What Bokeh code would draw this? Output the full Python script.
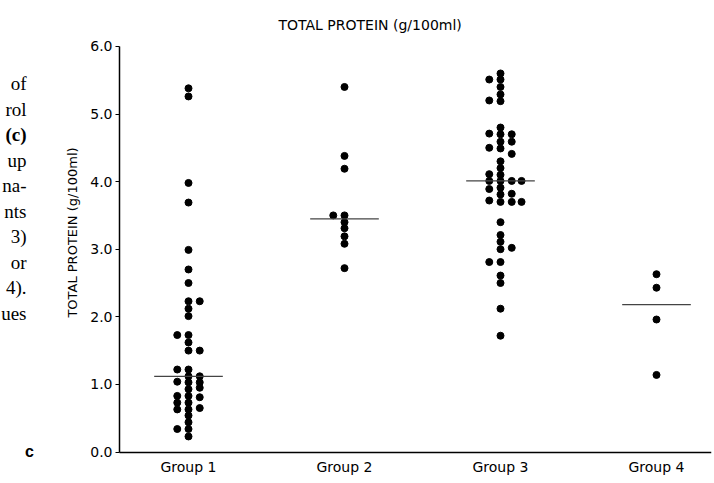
import math
from bokeh.plotting import figure
from bokeh.models import FixedTicker, Range1d, NumeralTickFormatter
from bokeh.core.properties import value
from bokeh.embed import file_html
from bokeh.resources import INLINE

# ---------------- data ----------------
groups = ["Group 1", "Group 2", "Group 3", "Group 4"]
medians = [1.12, 3.45, 4.01, 2.18]

g1_center = [5.38, 5.26, 3.98, 3.69, 2.99, 2.70, 2.50, 2.23, 2.12, 2.01, 1.73, 1.62,
             1.50, 1.22, 1.12, 1.03, 0.93, 0.83, 0.73, 0.63, 0.54, 0.44, 0.34, 0.23]
g1_left = [1.73, 1.22, 1.04, 0.83, 0.73, 0.63, 0.34]
g1_right = [2.23, 1.50, 1.12, 1.03, 0.95, 0.81, 0.65]

g2_center = [5.40, 4.38, 4.19, 3.50, 3.40, 3.31, 3.19, 3.08, 2.72]
g2_left = [3.50]
g2_right = []

g3_center = [5.60, 5.51, 5.40, 5.29, 5.19, 4.80, 4.70, 4.59, 4.49, 4.30, 4.20, 4.10,
             4.01, 3.91, 3.81, 3.70, 3.40, 3.21, 3.11, 3.00, 2.81, 2.61, 2.50, 2.12, 1.72]
g3_left = [5.51, 5.20, 4.71, 4.50, 4.11, 4.01, 3.89, 3.72, 2.81]
g3_right = [4.70, 4.59, 4.41, 4.01, 3.82, 3.70, 3.02]
g3_far_right = [4.01, 3.70]

g4_center = [2.63, 2.43, 1.96, 1.14]

y_ticks = [0, 1, 2, 3, 4, 5, 6]
y_min, y_max = 0, 6

title_text = "TOTAL PROTEIN (g/100ml)"
y_label = "TOTAL PROTEIN (g/100ml)"
side_text = ["of", "rol", "(c)", "up", "na-", "nts", "3)", "or", "4).", "ues"]
panel_letter = "c"

# ---------------- geometry (pixels of the page) ----------------
W, H = 712, 481
PX_PER_CAT = 156.0          # pixels between groups
PX_PER_UNIT = 67.6          # pixels per g/100ml
G1_PX = 188.0               # page x of Group 1
ZERO_PX = 451.5             # page y of 0.0
AXIS_PX = 119.0             # page x of the y axis
TOP_BORDER = 33


def xd(px):
    return 1 + (px - G1_PX) / PX_PER_CAT


def yd(py):
    return (ZERO_PX - py) / PX_PER_UNIT


x_start, x_end = xd(0), xd(W - 1)
y_start, y_end = yd(H), yd(TOP_BORDER)
axis_x = xd(AXIS_PX)

p = figure(width=W, height=H, output_backend="svg", toolbar_location=None,
           x_range=Range1d(x_start, x_end), y_range=Range1d(y_start, y_end),
           min_border_left=0, min_border_right=1, min_border_top=TOP_BORDER,
           min_border_bottom=0)

p.title.text = title_text
p.title.align = "left"
p.title.offset = 278
p.title.text_font = "DejaVu Sans"
p.title.text_font_size = "14px"
p.title.text_font_style = "normal"
p.title.text_color = "black"
p.title.standoff = 1

p.xgrid.visible = False
p.ygrid.visible = False
p.outline_line_color = None
p.background_fill_color = "white"
p.border_fill_color = "white"

# y axis (fixed inside the frame so the page text to its left stays visible)
p.yaxis.fixed_location = axis_x
p.yaxis.bounds = (y_min, y_max)
p.yaxis.ticker = FixedTicker(ticks=y_ticks)
p.yaxis.formatter = NumeralTickFormatter(format="0.0")
p.yaxis.major_label_text_font = "DejaVu Sans"
p.yaxis.major_label_text_font_size = "14px"
p.yaxis.major_label_text_color = "black"
p.yaxis.major_tick_out = 4
p.yaxis.major_tick_in = 0
p.yaxis.minor_tick_out = 0
p.yaxis.minor_tick_in = 0
p.yaxis.axis_line_width = 1.5
p.yaxis.axis_line_color = "black"
p.yaxis.major_tick_line_color = "black"
p.yaxis.major_label_standoff = 3

# x axis
p.xaxis.fixed_location = y_min
p.xaxis.bounds = (axis_x, x_end)
p.xaxis.ticker = FixedTicker(ticks=[1, 2, 3, 4])
p.xaxis.major_label_overrides = {i + 1: g for i, g in enumerate(groups)}
p.xaxis.major_label_text_font = "DejaVu Sans"
p.xaxis.major_label_text_font_size = "14px"
p.xaxis.major_label_text_color = "black"
p.xaxis.major_tick_out = 0
p.xaxis.major_tick_in = 0
p.xaxis.minor_tick_out = 0
p.xaxis.minor_tick_in = 0
p.xaxis.axis_line_width = 1.5
p.xaxis.axis_line_color = "black"
p.xaxis.major_label_standoff = 7

# ---------------- points ----------------
offsets = {"center": 0.0, "left": -0.072, "right": 0.072, "far": 0.135}
columns = [
    (1, g1_center, "center"), (1, g1_left, "left"), (1, g1_right, "right"),
    (2, g2_center, "center"), (2, g2_left, "left"), (2, g2_right, "right"),
    (3, g3_center, "center"), (3, g3_left, "left"), (3, g3_right, "right"),
    (3, g3_far_right, "far"),
    (4, g4_center, "center"),
]
xs, ys = [], []
for pos, vals, col in columns:
    for v in vals:
        xs.append(pos + offsets[col])
        ys.append(v)
p.scatter(xs, ys, size=7, color="black", line_color="black")

# median lines
pos = [1, 2, 3, 4]
p.segment(x0=[x - 0.22 for x in pos], x1=[x + 0.22 for x in pos],
          y0=medians, y1=medians, line_color="#444444", line_width=1.3)

# ---------------- texts left of the axis ----------------
# y axis label
p.text(x=[xd(72)], y=[yd(232)], text=[y_label], angle=math.pi / 2,
       text_align="center", text_baseline="middle",
       text_font=value("DejaVu Sans"), text_font_size="13px", text_color="black")

# fragment of the page text on the left
normal_idx = [i for i, t in enumerate(side_text) if t != "(c)"]
bold_idx = [i for i, t in enumerate(side_text) if t == "(c)"]
p.text(x=[xd(26)] * len(normal_idx), y=[yd(83 + 25.5 * i) for i in normal_idx],
       text=[side_text[i] for i in normal_idx], text_align="right",
       text_baseline="middle", text_font=value("Liberation Serif"),
       text_font_size="19px", text_color="black")
p.text(x=[xd(26)] * len(bold_idx), y=[yd(83 + 25.5 * i) for i in bold_idx],
       text=[side_text[i] for i in bold_idx], text_align="right",
       text_baseline="middle", text_font=value("Liberation Serif"),
       text_font_size="19px", text_font_style="bold", text_color="black")

# panel letter
p.text(x=[xd(29)], y=[yd(451)], text=[panel_letter], text_align="center",
       text_baseline="middle", text_font=value("Liberation Sans"),
       text_font_size="16px", text_font_style="bold", text_color="black")

open("out.html", "w").write(file_html(p, INLINE))
